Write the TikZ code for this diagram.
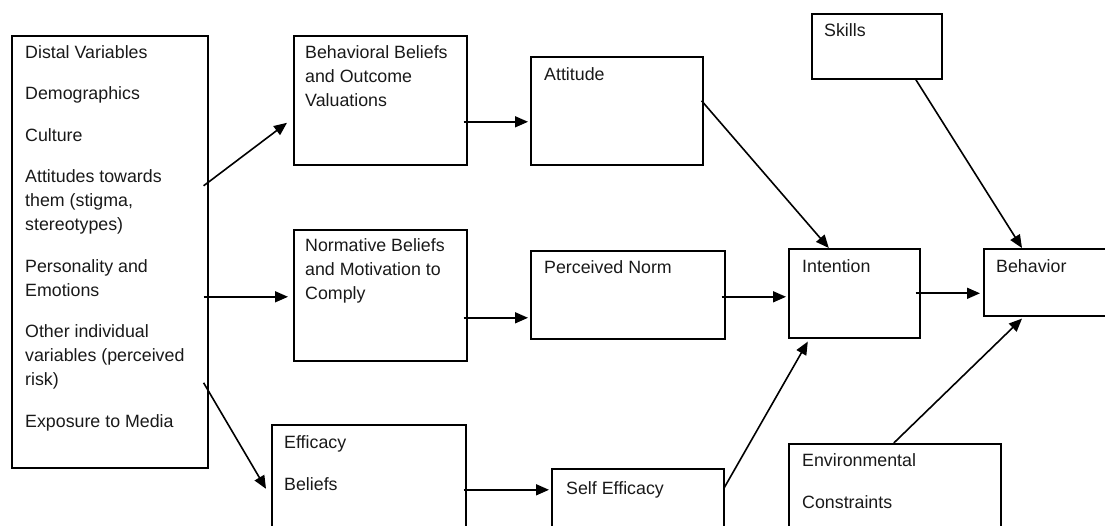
\documentclass[tikz,border=0pt]{standalone}
\usepackage{fontspec}
\setmainfont{Liberation Sans}
\usetikzlibrary{arrows.meta, positioning}

\tikzset{
  box/.style={draw, line width=1.6pt, anchor=north west, inner sep=0pt},
  boxtext/.style={anchor=north west, align=left, inner sep=0pt, text=black!90},
  link/.style={-{Triangle[length=13pt, width=11pt]}, line width=1.6pt},
}

\begin{document}
\begin{tikzpicture}[x=1pt, y=-1pt, font=\fontsize{17.8}{24}\selectfont]
        \useasboundingbox (0,0) rectangle (1105,526);
        \clip (0,0) rectangle (1105,526);

        % boxes
        \node[box, minimum width=196pt, minimum height=432pt] (distal) at (11,35) {};
        \node[box, minimum width=173pt, minimum height=129pt] (behav) at (293,35) {};
        \node[box, minimum width=173pt, minimum height=131pt] (norm) at (293,229) {};
        \node[box, minimum width=194pt, minimum height=116pt] (effic) at (271,424) {};
        \node[box, minimum width=172pt, minimum height=108pt] (att) at (530,56) {};
        \node[box, minimum width=194pt, minimum height=88pt] (pnorm) at (530,250) {};
        \node[box, minimum width=172pt, minimum height=72pt] (self) at (551,468) {};
        \node[box, minimum width=130pt, minimum height=65pt] (skills) at (811,13) {};
        \node[box, minimum width=131pt, minimum height=89pt] (intent) at (788,248) {};
        \node[box, minimum width=140pt, minimum height=67pt] (behv) at (983,248) {};
        \node[box, minimum width=212pt, minimum height=97pt] (env) at (788,443) {};

        % texts
        \node[boxtext, below right=10pt and 14pt of distal.north west] (distal-txt)
          {Distal Variables\\[17.5pt] Demographics\\[17.5pt] Culture\\[17.5pt]
           Attitudes towards\\ them (stigma,\\ stereotypes)\\[17.5pt]
           Personality and\\ Emotions\\[17.5pt]
           Other individual\\ variables (perceived\\ risk)\\[17.5pt]
           Exposure to Media};
        \node[boxtext, below right=10pt and 12pt of behav.north west] (behav-txt)
          {Behavioral Beliefs\\ and Outcome\\ Valuations};
        \node[boxtext, below right=9pt and 12pt of norm.north west] (norm-txt)
          {Normative Beliefs\\ and Motivation to\\ Comply};
        \node[boxtext, below right=11pt and 13pt of effic.north west] (effic-txt)
          {Efficacy\\[18pt] Beliefs};
        \node[boxtext, below right=11pt and 14pt of att.north west] (att-txt) {Attitude};
        \node[boxtext, below right=10pt and 14pt of pnorm.north west] (pnorm-txt) {Perceived Norm};
        \node[boxtext, below right=13pt and 15pt of self.north west] (self-txt) {Self Efficacy};
        \node[boxtext, below right=10pt and 13pt of skills.north west] (skills-txt) {Skills};
        \node[boxtext, below right=11pt and 14pt of intent.north west] (intent-txt) {Intention};
        \node[boxtext, below right=11pt and 13pt of behv.north west] (behv-txt) {Behavior};
        \node[boxtext, below right=10pt and 14pt of env.north west] (env-txt)
          {Environmental\\[18pt] Constraints};

        % connectors
        \draw[link] ([xshift=-5pt, yshift=66pt]distal.east) -- ([xshift=-6pt, yshift=-22.5pt]behav.west);
        \draw[link] ([xshift=-5pt, yshift=-45pt]distal.east) -- ([xshift=-5pt, yshift=-1.5pt]norm.west);
        \draw[link] ([xshift=-5pt, yshift=-131pt]distal.east) -- ([xshift=-5pt, yshift=-6pt]effic.west);
        \draw[link] ([xshift=-4pt, yshift=-21.5pt]behav.east) -- ([xshift=-2pt, yshift=-11pt]att.west);
        \draw[link] ([xshift=-4pt, yshift=-22.5pt]norm.east) -- ([xshift=-2pt, yshift=-23pt]pnorm.west);
        \draw[link] ([xshift=-3pt, yshift=-7pt]effic.east) -- ([xshift=-2pt, yshift=15pt]self.west);
        \draw[link] ([xshift=-2pt, yshift=10pt]att.east) -- ([xshift=-25.5pt]intent.north);
        \draw[link] ([xshift=-4pt, yshift=-2pt]pnorm.east) -- ([xshift=-2pt, yshift=-3.5pt]intent.west);
        \draw[link] ([xshift=-1pt, yshift=16pt]self.east) -- ([xshift=-46.5pt, yshift=-3pt]intent.south);
        \draw[link] ([xshift=-5pt]intent.east) -- ([xshift=-3pt, yshift=-11pt]behv.west);
        \draw[link] ([xshift=39pt]skills.south) -- ([xshift=39pt]behv.north west);
        \draw[link] ([xshift=-1pt]env.north) -- ([xshift=39pt, yshift=-2pt]behv.south west);

      \end{tikzpicture}
\end{document}
